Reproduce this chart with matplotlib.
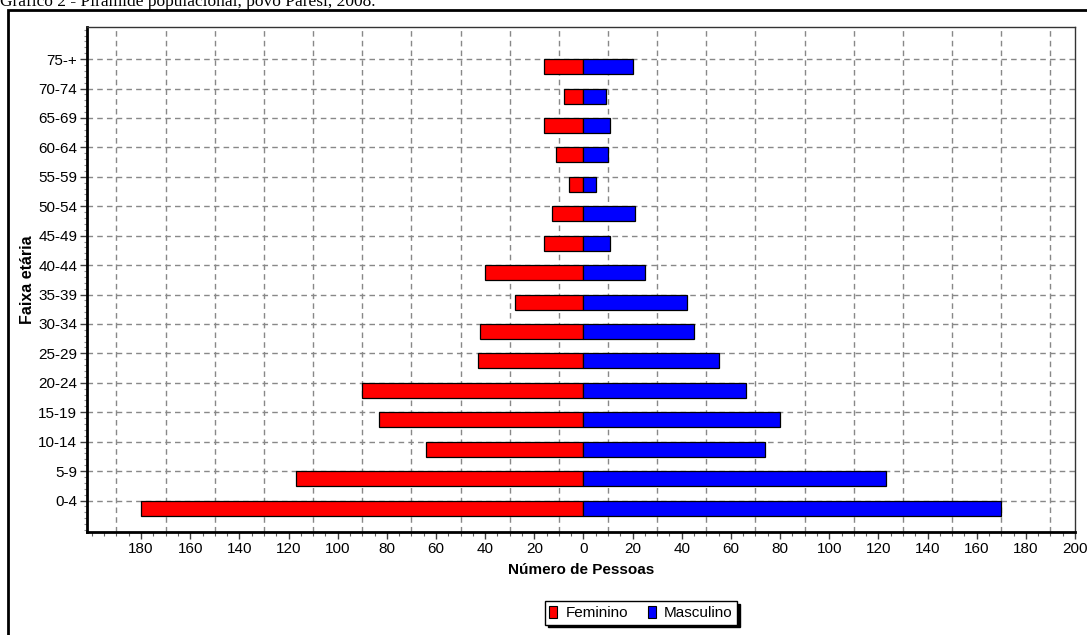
import matplotlib
matplotlib.use("Agg")
import matplotlib.pyplot as plt
import matplotlib.patches as patches
from matplotlib.ticker import MultipleLocator, FuncFormatter

# Faixas etárias, de baixo para cima
faixas = ['0-4', '5-9', '10-14', '15-19', '20-24', '25-29', '30-34', '35-39',
          '40-44', '45-49', '50-54', '55-59', '60-64', '65-69', '70-74', '75-+']
feminino = [180, 117, 64, 83, 90, 43, 42, 28, 40, 16, 13, 6, 11, 16, 8, 16]
masculino = [170, 123, 74, 80, 66, 55, 45, 42, 25, 11, 21, 5, 10, 11, 9, 20]
x_ticks = list(range(-180, 201, 20))

W, H = 1087, 635
fig = plt.figure(figsize=(W / 100, H / 100), dpi=100)
plt.rcParams['font.family'] = ['Liberation Sans', 'DejaVu Sans']

# outer frame of the original figure (cut at right/bottom)
fig.patches.append(patches.Rectangle((8 / W, -0.2), 1.2, 1.2 - 10 / H,
                                     transform=fig.transFigure, fill=False,
                                     edgecolor='black', linewidth=2))
fig.text(0.0, 1 - 5.5 / H, 'Gráfico 2 - Pirâmide populacional, povo Paresi, 2008.',
         family='Liberation Serif', fontsize=12.5, va='baseline', ha='left')

ax = fig.add_axes([87 / W, 1 - 532 / H, (1075 - 87) / W, (532 - 27) / H])

y = list(range(len(faixas)))
ax.barh(y, [-v for v in feminino], height=-0.51, align='edge',
        color='#FF0000', edgecolor='black', linewidth=0.9, label='Feminino', zorder=3)
ax.barh(y, masculino, height=-0.51, align='edge',
        color='#0000FF', edgecolor='black', linewidth=0.9, label='Masculino', zorder=3)

ax.set_xlim(-202, 200)
ax.set_ylim(-1.07, 16.09)

ax.set_yticks(y)
ax.set_yticklabels(faixas)
ax.set_xticks(x_ticks)
ax.xaxis.set_major_formatter(FuncFormatter(lambda v, p: f"{abs(int(v))}"))
ax.xaxis.set_minor_locator(MultipleLocator(5))
ax.yaxis.set_minor_locator(MultipleLocator(0.2))

ax.tick_params(axis='both', which='major', labelsize=11, length=5, width=1,
               color='#404040', pad=2)
ax.tick_params(axis='x', which='minor', length=3, width=0.8, color='#606060')
ax.tick_params(axis='y', which='minor', length=2, width=0.8, color='#909090')

# dashed grid: horizontal at each age group, vertical at odd tens
ax.grid(axis='y', which='major', color='#888888', linestyle=(0, (4, 3)),
        linewidth=1, zorder=0)
for gx in range(-190, 200, 20):
    ax.axvline(gx, color='#888888', linestyle=(0, (4, 3)), linewidth=1, zorder=0)
ax.set_axisbelow(True)

for side in ['left', 'bottom']:
    ax.spines[side].set_linewidth(2)
    ax.spines[side].set_color('black')
for side in ['top', 'right']:
    ax.spines[side].set_linewidth(1)
    ax.spines[side].set_color('#333333')

fig.text(581 / W, 1 - 570 / H, 'Número de Pessoas', ha='center', va='center',
         fontsize=11, weight='bold')
fig.text(28 / W, 1 - 279.5 / H, 'Faixa etária', ha='center', va='center',
         rotation=90, fontsize=11.5, weight='bold')

handles = [patches.Rectangle((0, 0), 1, 1, facecolor='#FF0000', edgecolor='black', linewidth=0.8),
           patches.Rectangle((0, 0), 1, 1, facecolor='#0000FF', edgecolor='black', linewidth=0.8)]
fig.legend(handles, ['Feminino', 'Masculino'], loc='center',
           bbox_to_anchor=(641 / W, 1 - 612.8 / H), ncol=2, fontsize=11,
           frameon=True, fancybox=False, edgecolor='black', framealpha=1,
           shadow={'color': 'black', 'alpha': 1},
           handlelength=0.5, handleheight=0.85, handletextpad=0.55,
           columnspacing=1.3, borderpad=0.3, borderaxespad=0)

fig.savefig('out.png', dpi=100)
